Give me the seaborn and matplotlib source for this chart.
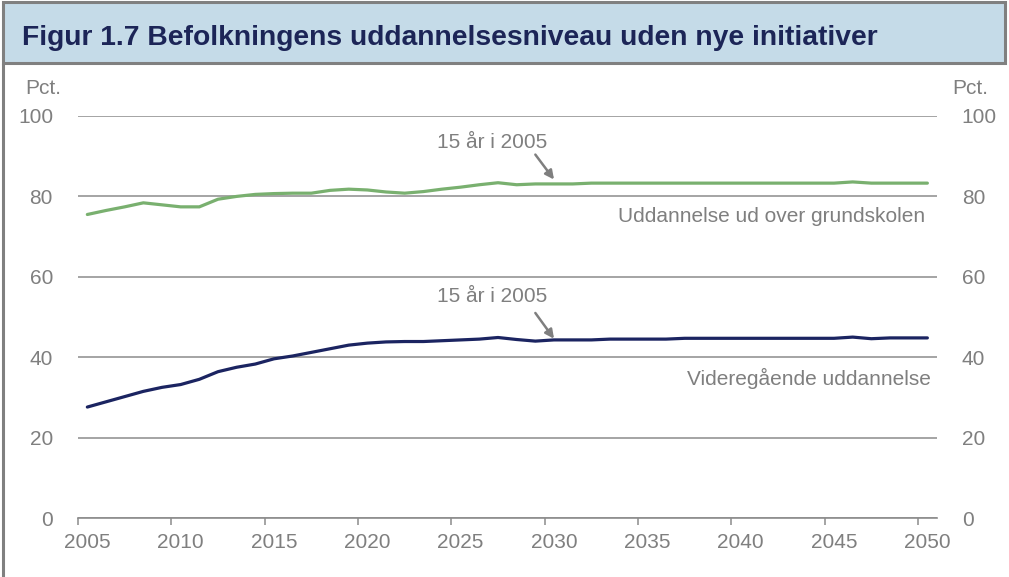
import matplotlib
matplotlib.use("Agg")
import matplotlib.pyplot as plt
import matplotlib.patches as mpatches
import matplotlib.lines as mlines
import seaborn as sns
import pandas as pd
import numpy as np

years = list(range(2005, 2051))
grundskole = [75.5, 76.5, 77.4, 78.4, 77.9, 77.4, 77.4, 79.3, 80.0, 80.5,
              80.7, 80.8, 80.8, 81.5, 81.8, 81.6, 81.1, 80.8, 81.2, 81.8,
              82.3, 82.9, 83.4, 82.9, 83.1, 83.1, 83.1, 83.3, 83.3, 83.3,
              83.3, 83.3, 83.3, 83.3, 83.3, 83.3, 83.3, 83.3, 83.3, 83.3,
              83.3, 83.6, 83.3, 83.3, 83.3, 83.3]
videregaaende = [27.6, 28.9, 30.2, 31.5, 32.5, 33.2, 34.5, 36.4, 37.5, 38.3,
                 39.6, 40.3, 41.2, 42.1, 43.0, 43.5, 43.8, 43.9, 43.9, 44.1,
                 44.3, 44.5, 44.9, 44.4, 44.0, 44.3, 44.3, 44.3, 44.5, 44.5,
                 44.5, 44.5, 44.7, 44.7, 44.7, 44.7, 44.7, 44.7, 44.7, 44.7,
                 44.7, 45.0, 44.6, 44.8, 44.8, 44.8]
series_names = ["Uddannelse ud over grundskolen", "Videregående uddannelse"]
y_ticks = [0, 20, 40, 60, 80, 100]
x_labels = list(range(2005, 2051, 5))
title = "Figur 1.7 Befolkningens uddannelsesniveau uden nye initiativer"
annot_text = "15 år i 2005"
unit = "Pct."

df = pd.DataFrame({
    "year": years * 2,
    "value": grundskole + videregaaende,
    "serie": [series_names[0]] * len(years) + [series_names[1]] * len(years),
})

sns.set_theme(style="white")
plt.rcParams["font.family"] = ["Liberation Sans", "DejaVu Sans"]

GREY = "#7f7f7f"
GRID = "#8c8c8c"
GREEN = "#79b06f"
NAVY = "#1b2461"
TITLE_C = "#1c2557"
BAND = "#c5dbe8"

W, H = 1009, 577
fig = plt.figure(figsize=(W / 100, H / 100), dpi=100)
fig.patch.set_facecolor("white")

# title band
band = mpatches.Rectangle((3 / W, 1 - 63 / H), (1005 - 3) / W, (63 - 2) / H,
                          transform=fig.transFigure, facecolor=BAND,
                          edgecolor="#808080", linewidth=2.2, zorder=0)
fig.patches.append(band)
fig.lines.append(mlines.Line2D([3 / W, 3 / W], [0, 1 - 63 / H],
                               transform=fig.transFigure, color="#808080",
                               linewidth=2.2))
fig.text(22 / W, 1 - 38 / H, title, fontsize=20.3, fontweight="bold",
         color=TITLE_C, ha="left", va="center")

ax = fig.add_axes([78 / W, 59 / H, (936.7 - 78) / W, (518 - 116) / H])
sns.lineplot(data=df, x="year", y="value", hue="serie",
             palette=[GREEN, NAVY], linewidth=2.3, ax=ax, legend=False)

ax.set_xlim(2004.5, 2050.5)
ax.set_ylim(0, 100)
ax.set_xlabel("")
ax.set_ylabel("")
for s in ["top", "right", "left"]:
    ax.spines[s].set_visible(False)
ax.spines["bottom"].set_color(GRID)
ax.spines["bottom"].set_linewidth(1.2)

ax.set_yticks(y_ticks)
ax.yaxis.grid(True, color=GRID, linewidth=1.1)
ax.set_axisbelow(True)
ax.tick_params(axis="y", left=False, right=False, labelleft=True,
               labelright=True, labelsize=15, labelcolor=GREY, pad=12)

ax.set_xticks(x_labels)
ax.set_xticklabels([str(x) for x in x_labels])
ax.set_xticks(np.arange(2004.5, 2050, 5), minor=True)
ax.tick_params(axis="x", which="major", length=0, labelsize=15,
               labelcolor=GREY, pad=11)
ax.tick_params(axis="x", which="minor", length=5, width=1.1, color=GRID,
               direction="out", bottom=True)

# unit labels
fig.text(61 / W, 1 - 89 / H, unit, fontsize=15, color=GREY, ha="right", va="center")
fig.text(952 / W, 1 - 89 / H, unit, fontsize=15, color=GREY, ha="left", va="center")

# series labels
ax.text(2049.9, 75.1, series_names[0], fontsize=15, color=GREY,
        ha="right", va="center")
ax.text(2050.2, 34.6, series_names[1], fontsize=15, color=GREY,
        ha="right", va="center")

# annotations
for ty, tail_y, head_y in [(93.3, 90.4, 84.2), (55.0, 51.0, 44.6)]:
    ax.text(2026.7, ty, annot_text, fontsize=15, color=GREY,
            ha="center", va="center")
    ax.annotate("", xy=(2030.0, head_y), xytext=(2029.0, tail_y),
                arrowprops=dict(arrowstyle="-|>", color=GREY, lw=1.8,
                                mutation_scale=13, shrinkA=0, shrinkB=0))

fig.savefig("out.png", dpi=100)
